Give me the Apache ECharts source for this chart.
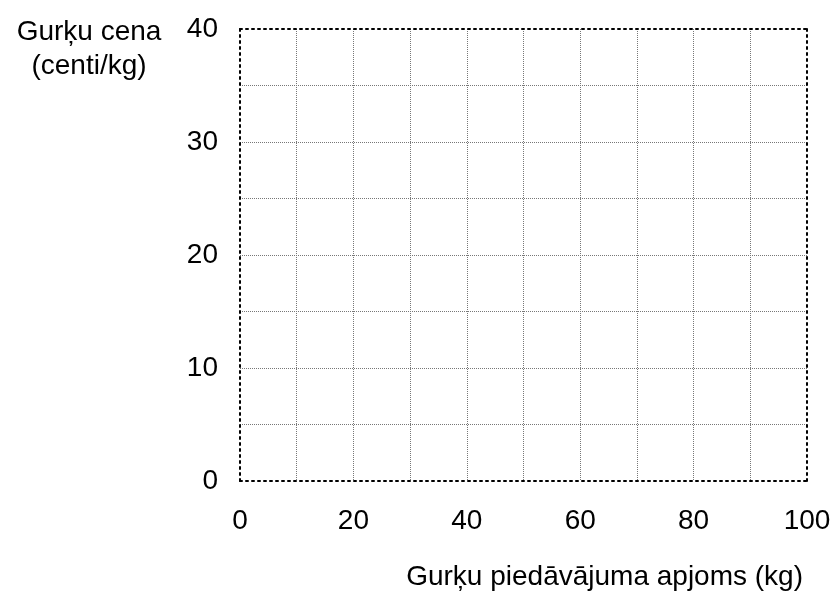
<!DOCTYPE html>
<html>
<head>
<meta charset="utf-8">
<script src="https://cdn.jsdelivr.net/npm/echarts@6/dist/echarts.min.js"></script>
<style>
  html, body { margin: 0; padding: 0; background: #fff; }
  #chart { width: 834px; height: 597px; }
</style>
</head>
<body>
<div id="chart"></div>
<script>
// axis ranges and labels
const xRange = [0, 100]
const xGridStep = 10
const xLabelStep = 20
const yRange = [0, 40]
const yGridStep = 5
const yLabelStep = 10
const yName = 'Gurķu cena\n(centi/kg)'
const xName = 'Gurķu piedāvājuma apjoms (kg)'

const font = 'Liberation Sans, Arial, sans-serif'
const fs = 28
const border = { show: true, onZero: false, lineStyle: { color: '#000', width: 2, type: [2, 4] } }
const gridLine = {
  show: true, showMinLine: false, showMaxLine: false,
  lineStyle: { color: '#777', width: 1, type: [1, 1] }
}

const chart = echarts.init(document.getElementById('chart'))
chart.setOption({
  animation: false,
  grid: { left: 240, right: 27, top: 29, bottom: 116 },
  title: {
    text: yName,
    left: 84, top: 10,
    textAlign: 'center',
    textStyle: { fontFamily: font, fontSize: fs, fontWeight: 'normal', color: '#000', lineHeight: 34, align: 'center' }
  },
  xAxis: [
    {
      type: 'value', min: xRange[0], max: xRange[1], interval: xGridStep,
      axisLine: border, axisTick: { show: false },
      splitLine: gridLine,
      axisLabel: {
        margin: 26, color: '#000', fontFamily: font, fontSize: fs,
        formatter: v => (v % xLabelStep === 0 ? String(v) : '')
      },
      name: xName, nameLocation: 'end', nameGap: 0,
      nameTextStyle: {
        fontFamily: font, fontSize: fs, color: '#000',
        align: 'right', verticalAlign: 'top', padding: [82, 4, 0, 0]
      }
    },
    {
      type: 'value', min: xRange[0], max: xRange[1], position: 'top',
      axisLine: border, axisTick: { show: false }, axisLabel: { show: false }, splitLine: { show: false }
    }
  ],
  yAxis: [
    {
      type: 'value', min: yRange[0], max: yRange[1], interval: yGridStep,
      axisLine: border, axisTick: { show: false },
      splitLine: gridLine,
      axisLabel: {
        margin: 22, color: '#000', fontFamily: font, fontSize: fs,
        formatter: v => (v % yLabelStep === 0 ? String(v) : '')
      }
    },
    {
      type: 'value', min: yRange[0], max: yRange[1], position: 'right',
      axisLine: border, axisTick: { show: false }, axisLabel: { show: false }, splitLine: { show: false }
    }
  ],
  series: []
})
</script>
</body>
</html>
